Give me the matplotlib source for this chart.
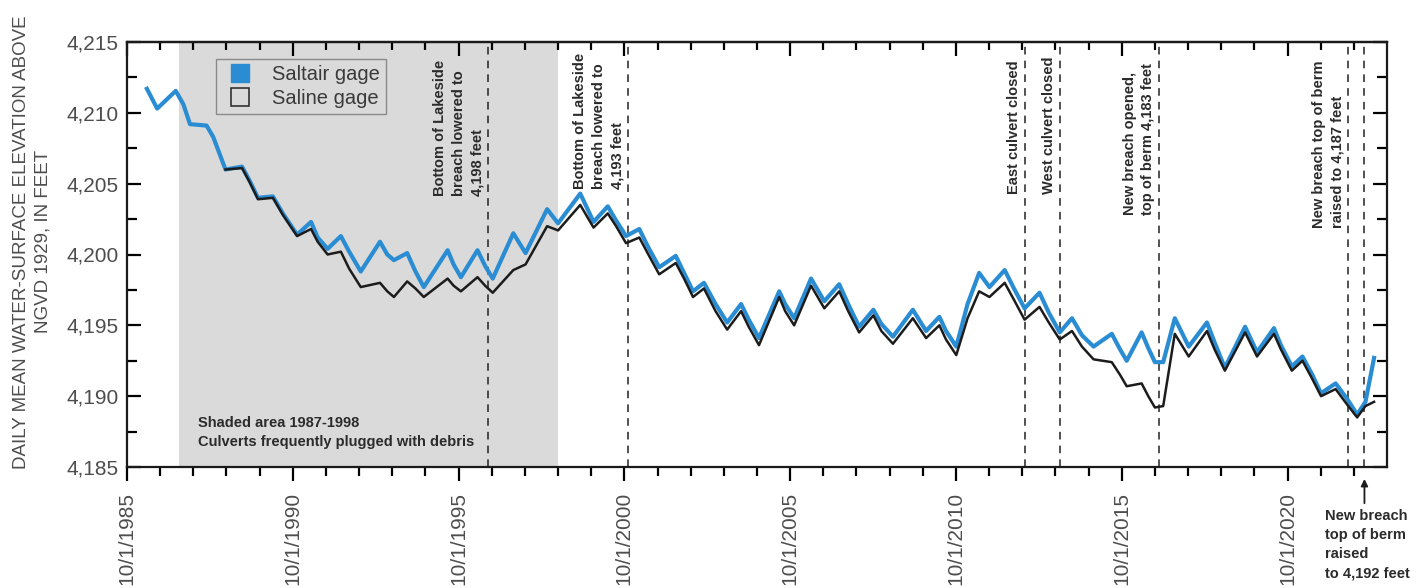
import matplotlib.pyplot as plt
from matplotlib.lines import Line2D
from matplotlib.ticker import FixedLocator, FuncFormatter

plt.rcParams['font.family'] = ['Liberation Sans', 'DejaVu Sans']

# decimal years, 10/1/1985 = 1985.75
saltair_t = [1986.35, 1986.66, 1987.22, 1987.45, 1987.65, 1988.15, 1988.35, 1988.72,
             1989.22, 1989.45, 1989.70, 1990.15, 1990.45, 1990.88, 1991.30, 1991.50,
             1991.80, 1992.20, 1992.45, 1992.80, 1993.38, 1993.60, 1993.80, 1994.20,
             1994.45, 1994.70, 1995.42, 1995.60, 1995.82, 1996.32, 1996.55, 1996.78,
             1997.40, 1997.77, 1998.42, 1998.75, 1999.42, 1999.82, 2000.25, 2000.50,
             2000.80, 2001.20, 2001.45, 2001.80, 2002.30, 2002.55, 2002.82, 2003.15,
             2003.50, 2003.85, 2004.27, 2004.50, 2004.81, 2005.42, 2005.60, 2005.87,
             2006.38, 2006.78, 2007.23, 2007.50, 2007.83, 2008.26, 2008.50, 2008.85,
             2009.45, 2009.85, 2010.25, 2010.45, 2010.76, 2011.10, 2011.45, 2011.76,
             2012.22, 2012.50, 2012.82, 2013.27, 2013.55, 2013.88, 2014.25, 2014.55,
             2014.90, 2015.45, 2015.70, 2015.90, 2016.35, 2016.55, 2016.75, 2017.00,
             2017.35, 2017.77, 2018.32, 2018.55, 2018.86, 2019.47, 2019.83, 2020.34,
             2020.55, 2020.88, 2021.20, 2021.50, 2021.76, 2022.20, 2022.55, 2022.85,
             2023.10, 2023.36]
saltair_elev = [4211.7, 4210.3, 4211.55, 4210.6, 4209.2, 4209.1, 4208.3, 4206.0,
                4206.2, 4205.2, 4204.0, 4204.1, 4202.9, 4201.4, 4202.3, 4201.2,
                4200.4, 4201.3, 4200.2, 4198.8, 4200.9, 4200.0, 4199.6, 4200.1,
                4198.8, 4197.7, 4200.3, 4199.3, 4198.4, 4200.3, 4199.2, 4198.3,
                4201.5, 4200.1, 4203.2, 4202.2, 4204.3, 4202.3, 4203.4, 4202.4,
                4201.3, 4201.8, 4200.6, 4199.1, 4199.9, 4198.7, 4197.4, 4198.0,
                4196.5, 4195.2, 4196.5, 4195.4, 4194.1, 4197.4, 4196.5, 4195.5,
                4198.3, 4196.7, 4197.9, 4196.5, 4194.9, 4196.1, 4195.1, 4194.2,
                4196.1, 4194.6, 4195.6, 4194.6, 4193.5, 4196.5, 4198.7, 4197.7,
                4198.9, 4197.6, 4196.2, 4197.3, 4195.9, 4194.5, 4195.5, 4194.3,
                4193.5, 4194.4, 4193.3, 4192.5, 4194.5, 4193.4, 4192.4, 4192.4,
                4195.5, 4193.5, 4195.2, 4193.8, 4192.0, 4194.9, 4193.1, 4194.8,
                4193.6, 4192.1, 4192.8, 4191.5, 4190.2, 4190.9, 4189.8, 4188.7,
                4189.6, 4192.7]

saline_t = saltair_t[7:]
saline_elev = [4206.0, 4206.1, 4205.1, 4203.9, 4204.0, 4202.8, 4201.3, 4201.8,
               4200.9, 4200.0, 4200.2, 4199.0, 4197.7, 4198.0, 4197.4, 4197.0,
               4198.1, 4197.6, 4197.0, 4198.3, 4197.8, 4197.4, 4198.4, 4197.8,
               4197.3, 4198.9, 4199.3, 4202.0, 4201.7, 4203.5, 4201.9, 4202.9,
               4202.0, 4200.8, 4201.2, 4200.1, 4198.6, 4199.4, 4198.3, 4197.0,
               4197.6, 4196.0, 4194.7, 4196.0, 4194.9, 4193.6, 4197.0, 4196.0,
               4195.0, 4197.8, 4196.2, 4197.4, 4196.0, 4194.5, 4195.7, 4194.6,
               4193.7, 4195.5, 4194.1, 4195.0, 4194.0, 4192.9, 4195.5, 4197.4,
               4197.0, 4198.0, 4196.8, 4195.4, 4196.3, 4195.2, 4194.0, 4194.6,
               4193.5, 4192.6, 4192.4, 4191.5, 4190.7, 4190.9, 4190.0, 4189.2,
               4189.3, 4194.4, 4192.8, 4194.6, 4193.3, 4191.8, 4194.5, 4192.8,
               4194.4, 4193.3, 4191.8, 4192.5, 4191.2, 4190.0, 4190.5, 4189.4,
               4188.5, 4189.3, 4189.6]

# shaded period and events
shade_start, shade_end = 1987.32, 1998.75
shade_text = 'Shaded area 1987-1998\nCulverts frequently plugged with debris'
event_t = [1996.64, 2000.86, 2012.84, 2013.89, 2016.88, 2022.58, 2023.07]
event_labels = ['Bottom of Lakeside\nbreach lowered to\n4,198 feet',
                'Bottom of Lakeside\nbreach lowered to\n4,193 feet',
                'East culvert closed',
                'West culvert closed',
                'New breach opened,\ntop of berm 4,183 feet',
                'New breach top of berm\nraised to 4,187 feet',
                'New breach\ntop of berm\nraised\nto 4,192 feet']
event_label_y = [4204.1, 4204.6, 4204.3, 4204.3, 4202.8, 4201.9]

year_ticks = [1985.75 + i for i in range(0, 38)]
year_labels = ['10/1/%d' % y for y in range(1985, 2021, 5)]
elev_ticks = [4185, 4190, 4195, 4200, 4205, 4210, 4215]

saltair_color = '#2a8cd2'
gray_text = '#4d4d4d'

fig = plt.figure(figsize=(14.26, 5.88), dpi=100)
ax = fig.add_axes([127 / 1426, 1 - 467 / 588, 1260 / 1426, 425 / 588])

ax.axvspan(shade_start, shade_end, color='#dadada', lw=0, zorder=0)
for t in event_t:
    ax.axvline(t, color='#222222', lw=1.1, ls=(0, (5, 4)), zorder=1)

ax.plot(saltair_t, saltair_elev, color=saltair_color, lw=3.0, zorder=3,
        solid_joinstyle='round')
ax.plot(saline_t, saline_elev, color='#1c1c1c', lw=1.8, zorder=4,
        solid_joinstyle='round')

ax.set_xlim(1985.75, 2023.75)
ax.set_ylim(4185, 4215)

# vertical event notes, sitting just left of each dashed line
for t, s, y in zip(event_t[:-1], event_labels[:-1], event_label_y):
    ax.text(t - 0.12, y, s, rotation=90, ha='right', va='bottom',
            multialignment='left', fontsize=10.5, fontweight='bold',
            color='#2b2b2b', linespacing=1.4, zorder=5)

ax.text(1987.9, 4187.45, shade_text, ha='left', va='center', fontsize=10.5,
        fontweight='bold', color='#2b2b2b', linespacing=1.5)

# arrow and note for the last berm change, below the axis
ax.annotate('', xy=(event_t[-1], 4184.35), xytext=(event_t[-1], 4182.25),
            arrowprops=dict(arrowstyle='-|>', color='#1c1c1c', lw=1.3,
                            mutation_scale=10),
            annotation_clip=False)
ax.text(2021.88, 4182.0, event_labels[-1], ha='left', va='top', fontsize=10.5,
        fontweight='bold', color='#2b2b2b', linespacing=1.45, clip_on=False)

# axes, ticks and labels
for sp in ax.spines.values():
    sp.set_linewidth(1.6)
    sp.set_color('#1a1a1a')

ax.xaxis.set_major_locator(FixedLocator(year_ticks[::5]))
ax.xaxis.set_minor_locator(FixedLocator(year_ticks))
ax.set_xticklabels(year_labels, rotation=90, fontsize=15, color=gray_text)
ax.tick_params(axis='x', which='major', direction='out', length=10, width=1.6, pad=8)
ax.tick_params(axis='x', which='minor', direction='out', length=6.5, width=1.6)

top = ax.secondary_xaxis('top')
top.xaxis.set_major_locator(FixedLocator(year_ticks[::5]))
top.xaxis.set_minor_locator(FixedLocator(year_ticks))
top.tick_params(axis='x', which='major', direction='in', length=10, width=1.6,
                labeltop=False)
top.tick_params(axis='x', which='minor', direction='in', length=5.5, width=1.6)
top.spines['top'].set_linewidth(1.6)

ax.yaxis.set_major_locator(FixedLocator(elev_ticks))
ax.yaxis.set_minor_locator(FixedLocator([v + 2.5 for v in elev_ticks[:-1]]))
ax.yaxis.set_major_formatter(FuncFormatter(lambda v, p: '{:,.0f}'.format(v)))
ax.tick_params(axis='y', which='both', direction='in', right=True, width=1.6,
               labelsize=15, labelcolor=gray_text, pad=6)
ax.tick_params(axis='y', which='major', length=10)
ax.tick_params(axis='y', which='minor', length=7)

ax.set_ylabel('DAILY MEAN WATER-SURFACE ELEVATION ABOVE\nNGVD 1929, IN FEET',
              fontsize=13.5, color=gray_text, linespacing=1.35)
ax.yaxis.set_label_coords(-0.06, 0.53)

handles = [Line2D([], [], ls='none', marker='s', markersize=13,
                  markerfacecolor=saltair_color, markeredgecolor=saltair_color),
           Line2D([], [], ls='none', marker='s', markersize=13,
                  markerfacecolor='none', markeredgecolor='#333333', markeredgewidth=1.2)]
leg = ax.legend(handles, ['Saltair gage', 'Saline gage'], loc='upper left',
                bbox_to_anchor=(0.0706, 0.96), borderaxespad=0, fontsize=14.5,
                frameon=True, fancybox=False, facecolor='#dadada',
                edgecolor='#8a8a8a', framealpha=1, labelspacing=0.25,
                handletextpad=0.7, borderpad=0.3, handlelength=1.8)
leg.get_frame().set_linewidth(1.0)
for txt in leg.get_texts():
    txt.set_color('#3a3a3a')

fig.savefig('out.png', dpi=100)
